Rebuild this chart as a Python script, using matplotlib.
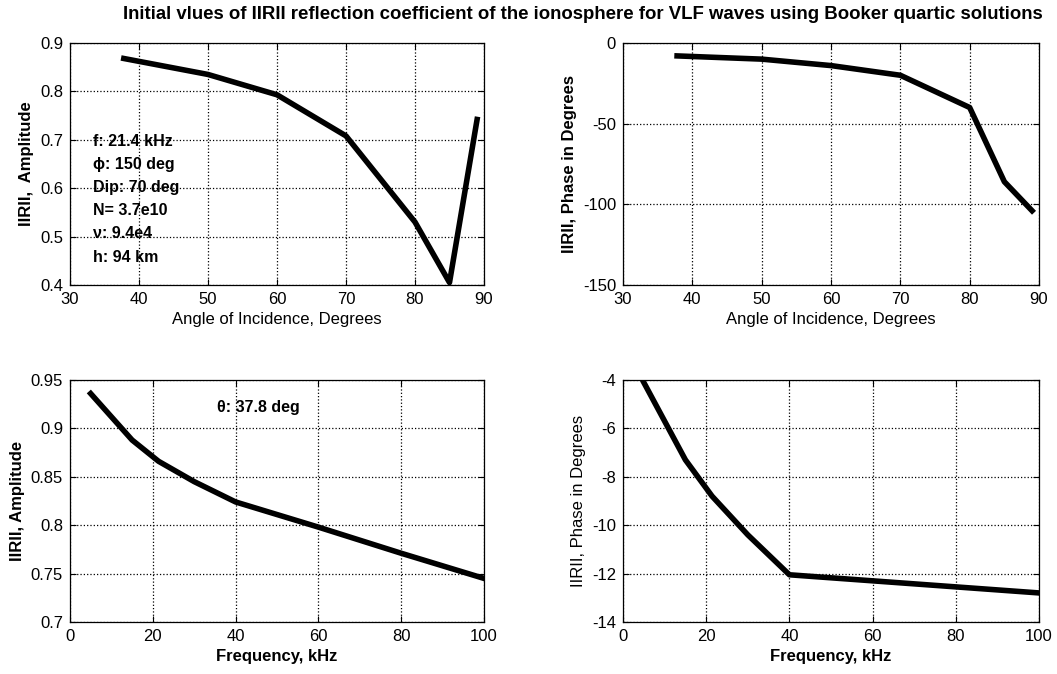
import numpy as np
import matplotlib
matplotlib.use("Agg")
import matplotlib.pyplot as plt

plt.rcParams['font.family'] = ['Liberation Sans Narrow', 'Liberation Sans', 'DejaVu Sans']
plt.rcParams['axes.unicode_minus'] = False

# angle sweep (f = 21.4 kHz)
angle = [37.8, 50, 60, 70, 80, 85, 89]
amp_angle = [0.868, 0.835, 0.793, 0.708, 0.530, 0.405, 0.742]
phase_angle = [-8, -10, -14, -20, -40, -86, -104]

# frequency sweep (theta = 37.8 deg)
freq = [5, 10, 15, 21.4, 30, 40, 60, 80, 100]
amp_freq = [0.936, 0.912, 0.888, 0.866, 0.845, 0.824, 0.798, 0.771, 0.745]
phase_freq = [-4.1, -5.7, -7.3, -8.8, -10.4, -12.05, -12.3, -12.55, -12.8]

fig = plt.figure(figsize=(10.57, 6.74), dpi=100)

ax1 = fig.add_axes([0.0662, 0.5772, 0.3917, 0.359])
ax2 = fig.add_axes([0.5894, 0.5772, 0.3936, 0.359])
ax3 = fig.add_axes([0.0662, 0.0772, 0.3917, 0.359])
ax4 = fig.add_axes([0.5894, 0.0772, 0.3936, 0.359])

def style(ax):
    ax.grid(True, linestyle=':', color='black', linewidth=0.9)
    ax.tick_params(direction='in', labelsize=12, length=4, top=True, right=True, pad=5)
    for s in ax.spines.values():
        s.set_linewidth(0.9)

ax1.plot(angle, amp_angle, color='black', linewidth=4)
ax1.set_xlim(30, 90)
ax1.set_ylim(0.4, 0.9)
ax1.set_xticks(np.arange(30, 91, 10))
ax1.set_yticks(np.arange(0.4, 0.91, 0.1))
ax1.set_xlabel('Angle of Incidence, Degrees', fontsize=12)
ax1.set_ylabel('IIRII,  Amplitude', fontsize=12, fontweight='bold')
ax1.text(0.055, 0.625, 'f: 21.4 kHz\nϕ: 150 deg\nDip: 70 deg\nN= 3.7e10\nν: 9.4e4\nh: 94 km',
         transform=ax1.transAxes, fontsize=11.5, fontweight='bold', va='top',
         linespacing=1.68)
style(ax1)

ax2.plot(angle, phase_angle, color='black', linewidth=4)
ax2.set_xlim(30, 90)
ax2.set_ylim(-150, 0)
ax2.set_xticks(np.arange(30, 91, 10))
ax2.set_yticks([-150, -100, -50, 0])
ax2.set_xlabel('Angle of Incidence, Degrees', fontsize=12)
ax2.set_ylabel('IIRII, Phase in Degrees', fontsize=12, fontweight='bold')
style(ax2)

ax3.plot(freq, amp_freq, color='black', linewidth=4)
ax3.set_xlim(0, 100)
ax3.set_ylim(0.7, 0.95)
ax3.set_xticks(np.arange(0, 101, 20))
ax3.set_yticks([0.7, 0.75, 0.8, 0.85, 0.9, 0.95])
ax3.set_yticklabels(['0.7', '0.75', '0.8', '0.85', '0.9', '0.95'])
ax3.set_xlabel('Frequency, kHz', fontsize=12, fontweight='bold')
ax3.set_ylabel('IIRII, Amplitude', fontsize=12, fontweight='bold')
ax3.text(0.355, 0.885, 'θ: 37.8 deg', transform=ax3.transAxes, fontsize=11.5,
         fontweight='bold', va='center')
style(ax3)

ax4.plot(freq, phase_freq, color='black', linewidth=4)
ax4.set_xlim(0, 100)
ax4.set_ylim(-14, -4)
ax4.set_xticks(np.arange(0, 101, 20))
ax4.set_yticks(np.arange(-14, -3, 2))
ax4.set_xlabel('Frequency, kHz', fontsize=12, fontweight='bold')
ax4.set_ylabel('IIRII, Phase in Degrees', fontsize=12)
style(ax4)

fig.text(0.551, 0.978, 'Initial vlues of IIRII reflection coefficient of the ionosphere for VLF waves using Booker quartic solutions',
         ha='center', va='center', fontsize=13.4, fontweight='bold')

fig.savefig('out.png', dpi=100)
